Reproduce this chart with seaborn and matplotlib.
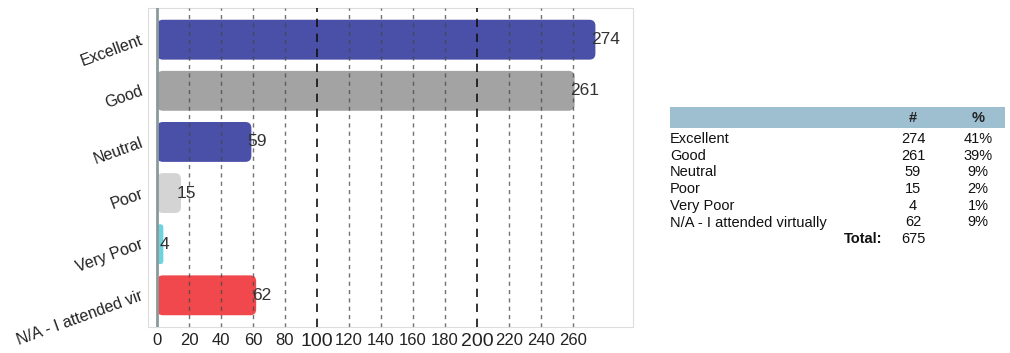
import matplotlib
matplotlib.use("Agg")
import matplotlib.pyplot as plt
import seaborn as sns
import pandas as pd
from matplotlib.patches import FancyBboxPatch, Rectangle

categories = ["Excellent", "Good", "Neutral", "Poor", "Very Poor", "N/A - I attended virtually"]
tick_labels = ["Excellent", "Good", "Neutral", "Poor", "Very Poor", "N/A - I attended vir"]
counts = [274, 261, 59, 15, 4, 62]
percents = ["41%", "39%", "9%", "2%", "1%", "9%"]
total = 675
bar_colors = ["#4a50a8", "#a3a3a3", "#4a50a8", "#d4d4d4", "#6ed3de", "#f0484c"]
xticks = [0, 20, 40, 60, 80, 100, 120, 140, 160, 180, 200, 220, 240, 260]

sns.set_theme(style="white")
plt.rcParams['font.family'] = ['Liberation Sans', 'DejaVu Sans']

df = pd.DataFrame({"cat": categories, "count": counts})

fig = plt.figure(figsize=(10.1, 3.53), dpi=100)
ax = fig.add_axes([148/1010, 1-327/353, (633-148)/1010, (327-8)/353])

sns.barplot(data=df, y="cat", x="count", hue="cat", palette=bar_colors,
            order=categories, hue_order=categories, legend=False, width=0.78,
            saturation=1, orient="h", ax=ax, zorder=2)

ax.set_xlim(-5.6, 297.5)
ax.set_ylim(5.62, -0.62)

# rounded bars
xu = 485 / (297.5 + 5.6)   # px per x unit
yu = 319 / 6.24           # px per y unit
r_px = 6
rx = r_px / xu
asp = (r_px / yu) / rx
for p in list(ax.patches):
    x, y, w, h = p.get_x(), p.get_y(), p.get_width(), p.get_height()
    fc = p.get_facecolor()
    p.remove()
    fb = FancyBboxPatch((x, y), w, h,
                        boxstyle=f"round,pad=0,rounding_size={min(rx, w/2)}",
                        mutation_aspect=asp, facecolor=fc, edgecolor="none",
                        zorder=2)
    ax.add_patch(fb)

# grid lines
for t in xticks[1:]:
    if t in (100, 200):
        ax.axvline(t, color="#111111", lw=1.2, ls=(0, (5, 4)), zorder=3)
    else:
        ax.axvline(t, color="#444444", lw=1.0, ls=(0, (3, 3)), zorder=3, alpha=0.75)
ax.axvline(0, color="#8a9a9c", lw=2.0, zorder=4)

# value labels
for i, v in enumerate(counts):
    ax.annotate(str(v), (v, i), xytext=(-3, 0), textcoords="offset points",
                ha="left", va="center", fontsize=12.5, color="#333333", zorder=5)

ax.set_xticks(xticks)
ax.set_xticklabels([str(t) for t in xticks])
for lab, t in zip(ax.get_xticklabels(), xticks):
    lab.set_fontsize(14 if t in (100, 200) else 12)
    lab.set_color("#222222")
ax.set_yticks(range(len(categories)))
ax.set_yticklabels(tick_labels, rotation=20, ha="right", va="center",
                   rotation_mode="anchor", fontsize=11.5, color="#222222")
ax.tick_params(axis="both", length=0, pad=4)
ax.set_xlabel("")
ax.set_ylabel("")
for s in ax.spines.values():
    s.set_color("#dddddd")
    s.set_linewidth(0.8)

# summary table
W, H = 1010, 353
fig.patches.append(Rectangle((670/W, 1-128/H), (1005-670)/W, 21/H,
                             transform=fig.transFigure, facecolor="#9dbfd0",
                             edgecolor="none"))
fs = 10.5
fig.text(913/W, 1-118/H, "#", ha="center", va="center", fontsize=fs,
         color="#222222", fontweight="bold")
fig.text(978/W, 1-118/H, "%", ha="center", va="center", fontsize=fs,
         color="#222222", fontweight="bold")
y0 = 139
dy = 16.7
for i, (c, n, pc) in enumerate(zip(categories, counts, percents)):
    yy = 1 - (y0 + i*dy)/H
    fig.text(670/W, yy, c, ha="left", va="center", fontsize=fs, color="#111111")
    fig.text(913/W, yy, str(n), ha="center", va="center", fontsize=fs, color="#111111")
    fig.text(978/W, yy, pc, ha="center", va="center", fontsize=fs, color="#111111")
yy = 1 - (y0 + 6*dy)/H
fig.text(882/W, yy, "Total:", ha="right", va="center", fontsize=fs,
         color="#111111", fontweight="bold")
fig.text(913/W, yy, str(total), ha="center", va="center", fontsize=fs, color="#111111")

fig.savefig("out.png", dpi=100)
